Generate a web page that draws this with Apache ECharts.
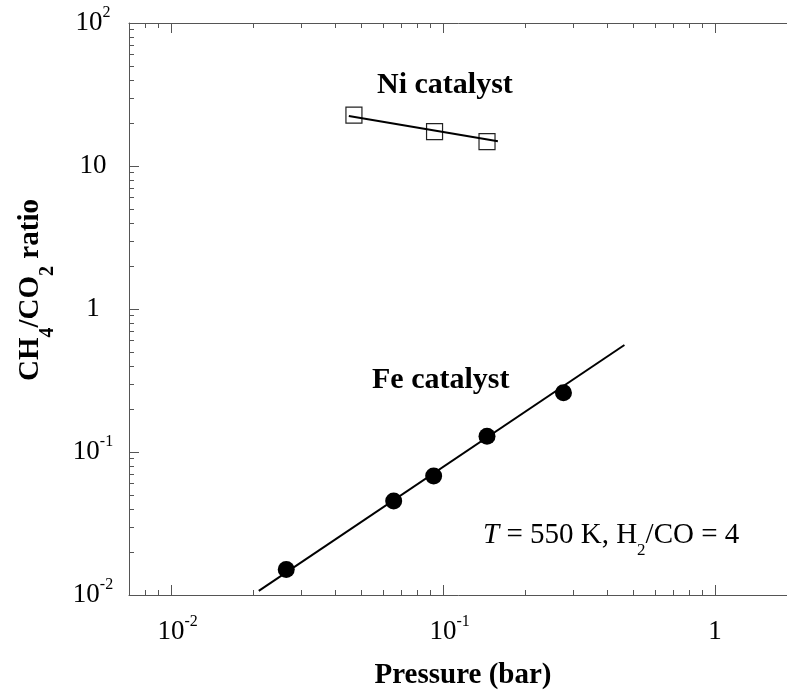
<!DOCTYPE html>
<html>
<head>
<meta charset="utf-8">
<script src="https://cdn.jsdelivr.net/npm/echarts@6/dist/echarts.min.js"></script>
<style>
  html, body { margin: 0; padding: 0; background: #fff; }
  #chart { width: 787px; height: 691px; }
</style>
</head>
<body>
<div id="chart"></div>
<script>
// ---- data ----
const niPressure = [0.047, 0.093, 0.145]
const niRatio = [22.7, 17.4, 14.8]
const niFitPressure = [0.045, 0.159]
const niFitRatio = [22.4, 14.9]

const fePressure = [0.0265, 0.0658, 0.0923, 0.145, 0.277]
const feRatio = [0.0151, 0.0454, 0.0679, 0.129, 0.260]
const feFitPressure = [0.0210, 0.464]
const feFitRatio = [0.0107, 0.560]

// ---- axis ticks ----
const xMajorTicks = [0.01, 0.1, 1]
const xMinorTicks = [0.008, 0.009,
  0.02, 0.03, 0.04, 0.05, 0.06, 0.07, 0.08, 0.09,
  0.2, 0.3, 0.4, 0.5, 0.6, 0.7, 0.8, 0.9, 2]
const yMajorTicks = [0.01, 0.1, 1, 10, 100]
const yMinorTicks = [
  0.02, 0.03, 0.04, 0.05, 0.06, 0.07, 0.08, 0.09,
  0.2, 0.3, 0.4, 0.5, 0.6, 0.7, 0.8, 0.9,
  2, 3, 4, 5, 6, 7, 8, 9,
  20, 30, 40, 50, 60, 70, 80, 90]

const X_MIN = 0.007
const X_MAX = 2
const Y_MIN = 0.01
const Y_MAX = 100

const FONT = "'Liberation Serif', 'Times New Roman', serif"
const AXIS_COLOR = '#555'

const zip = (xs, ys) => xs.map((x, i) => [x, ys[i]])

const powLabel = (v) => {
  const e = Math.round(Math.log10(v))
  if (e === 0) return '{b|1}'
  if (e === 1) return '{b|10}'
  return '{b|10}{s|' + e + '}'
}

const tickRich = {
  p: { width: 13, fontSize: 27, lineHeight: 36 },
  b: { fontFamily: FONT, fontSize: 27, lineHeight: 36, color: '#000', verticalAlign: 'middle' },
  s: { fontFamily: FONT, fontSize: 16, lineHeight: 16, color: '#000', verticalAlign: 'top' }
}

const subRich = (size, subSize, drop) => ({
  b: { fontFamily: FONT, fontWeight: 'bold', fontSize: size, lineHeight: size, color: '#000', verticalAlign: 'top' },
  s: { fontFamily: FONT, fontWeight: 'bold', fontSize: subSize, lineHeight: subSize, color: '#000', verticalAlign: 'top', padding: [drop, 0, 0, 0] }
})

function logAxis(extra) {
  return Object.assign({
    type: 'log',
    logBase: 10,
    splitLine: { show: false },
    axisLine: { show: true, lineStyle: { color: AXIS_COLOR, width: 1 } },
    axisTick: { show: true, inside: true, length: 10, lineStyle: { color: AXIS_COLOR, width: 1 } },
    axisLabel: { show: false },
    axisPointer: { show: false },
    silent: true
  }, extra)
}

const minorTick = (values) => ({ show: true, inside: true, length: 5, customValues: values, lineStyle: { color: AXIS_COLOR, width: 1 } })
const majorTick = (values) => ({ show: true, inside: true, length: 10, customValues: values, lineStyle: { color: AXIS_COLOR, width: 1 } })

const chart = echarts.init(document.getElementById('chart'))

const option = {
  animation: false,
  backgroundColor: '#fff',
  grid: {
    left: 129,
    top: 23,
    right: -10,
    bottom: 96,
    containLabel: false,
    outerBoundsMode: 'none'
  },
  xAxis: [
    logAxis({
      position: 'bottom', min: X_MIN, max: X_MAX,
      axisTick: majorTick(xMajorTicks),
      axisLabel: {
        show: true, margin: 19, customValues: xMajorTicks,
        formatter: (v) => {
          const t = powLabel(v)
          return t.indexOf('{s|') >= 0 ? '{p|}' + t : t
        },
        rich: tickRich
      },
      name: 'Pressure (bar)',
      nameLocation: 'middle',
      nameGap: 66,
      nameTextStyle: { fontFamily: FONT, fontWeight: 'bold', fontSize: 29, color: '#000' }
    }),
    logAxis({ position: 'bottom', min: X_MIN, max: X_MAX, axisLine: { show: false }, axisTick: minorTick(xMinorTicks) }),
    logAxis({ position: 'top', min: X_MIN, max: X_MAX, axisTick: majorTick(xMajorTicks) }),
    logAxis({ position: 'top', min: X_MIN, max: X_MAX, axisLine: { show: false }, axisTick: minorTick(xMinorTicks) })
  ],
  yAxis: [
    logAxis({
      position: 'left', min: Y_MIN, max: Y_MAX,
      axisTick: majorTick(yMajorTicks),
      axisLabel: {
        show: true, margin: 36, align: 'center', customValues: yMajorTicks,
        formatter: powLabel,
        rich: tickRich
      },
      name: '{b|CH}{s|4}{b|/CO}{s|2}{b| ratio}',
      nameLocation: 'middle',
      nameRotate: 90,
      nameGap: 84,
      nameTextStyle: {
        fontFamily: FONT, fontWeight: 'bold', fontSize: 29, color: '#000',
        padding: [0, 0, 0, 38],
        rich: subRich(29, 20, 22)
      }
    }),
    logAxis({ position: 'left', min: Y_MIN, max: Y_MAX, axisLine: { show: false }, axisTick: minorTick(yMinorTicks) })
  ],
  series: [
    {
      name: 'Fe fit', type: 'line', xAxisIndex: 0, yAxisIndex: 0,
      data: zip(feFitPressure, feFitRatio),
      symbol: 'none', silent: true,
      lineStyle: { color: '#000', width: 2 }
    },
    {
      name: 'Fe catalyst', type: 'scatter', xAxisIndex: 0, yAxisIndex: 0,
      data: zip(fePressure, feRatio),
      symbol: 'circle', symbolSize: 17, silent: true,
      itemStyle: { color: '#000', opacity: 1 }
    },
    {
      name: 'Ni fit', type: 'line', xAxisIndex: 0, yAxisIndex: 0,
      data: zip(niFitPressure, niFitRatio),
      symbol: 'none', silent: true,
      lineStyle: { color: '#000', width: 2 }
    },
    {
      name: 'Ni catalyst', type: 'scatter', xAxisIndex: 0, yAxisIndex: 0,
      data: zip(niPressure, niRatio),
      symbol: 'rect', symbolSize: 16, silent: true,
      itemStyle: { color: 'rgba(0,0,0,0)', borderColor: '#222', borderWidth: 1.2, opacity: 1 }
    }
  ],
  graphic: [
    {
      type: 'text', left: 377, top: 70, silent: true,
      style: { text: 'Ni catalyst', fontFamily: FONT, fontWeight: 'bold', fontSize: 30, fill: '#000' }
    },
    {
      type: 'text', left: 372, top: 365, silent: true,
      style: { text: 'Fe catalyst', fontFamily: FONT, fontWeight: 'bold', fontSize: 30, fill: '#000' }
    },
    {
      type: 'text', left: 483, top: 521, silent: true,
      style: {
        text: '{i|T}{r| = 550 K, H}{s|2}{r|/CO = 4}',
        rich: {
          i: { fontFamily: FONT, fontStyle: 'italic', fontSize: 29, lineHeight: 29, fill: '#000', verticalAlign: 'top' },
          r: { fontFamily: FONT, fontSize: 29, lineHeight: 29, fill: '#000', verticalAlign: 'top' },
          s: { fontFamily: FONT, fontSize: 17, lineHeight: 17, fill: '#000', verticalAlign: 'top', padding: [21, 0, 0, 0] }
        }
      }
    }
  ]
}

chart.setOption(option)
</script>
</body>
</html>
